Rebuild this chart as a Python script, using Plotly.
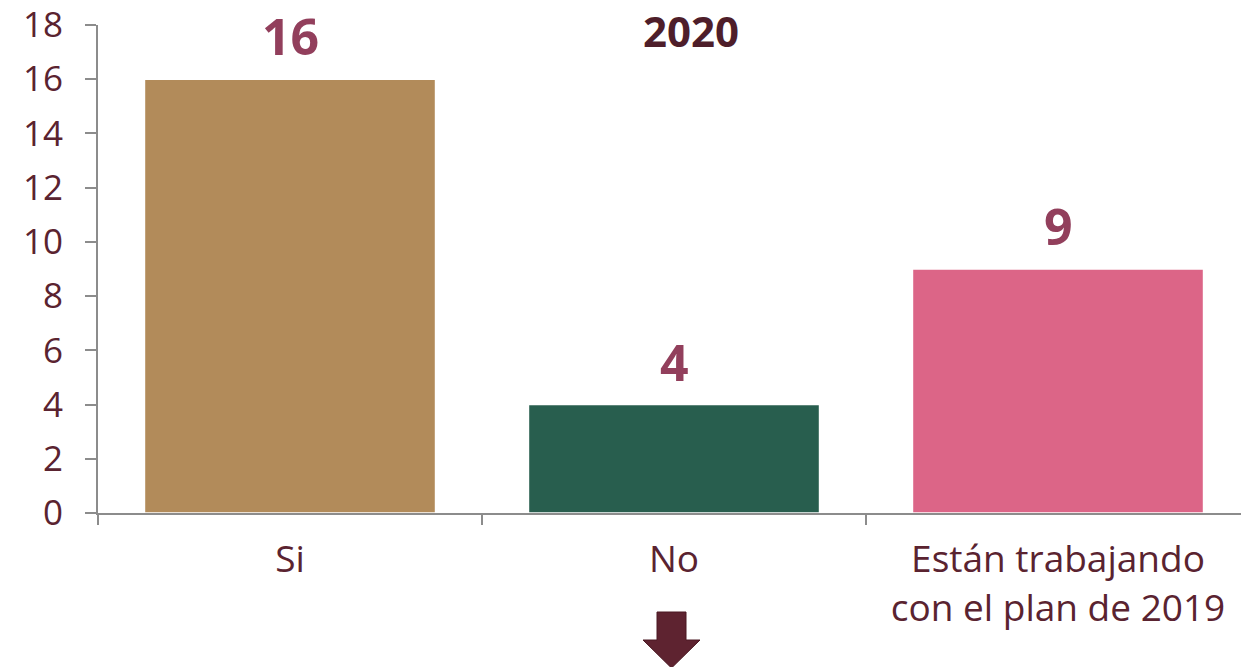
import plotly.graph_objects as go

categories = ["Si", "No", "Están trabajando<br>con el plan de 2019"]
values = [16, 4, 9]
colors = ["#B28B5A", "#285E4E", "#DC6587"]
y_ticks = [0, 2, 4, 6, 8, 10, 12, 14, 16, 18]
title_text = "2020"

W, H = 1241, 667
ML, MR, MT, MB = 98, 0, 25, 154
PW, PH = W - ML - MR, H - MT - MB

def px(x):
    return (x - ML) / PW

def py(y):
    return (H - MB - y) / PH

FONT = "Open Sans"
TXT = "#5A2330"
LBL = "#923F5C"

fig = go.Figure()
fig.add_trace(go.Bar(
    x=categories, y=values,
    marker=dict(color=colors, line=dict(color="white", width=1.5)),
    width=0.758, hoverinfo="skip",
))

for c, v in zip(categories, values):
    fig.add_annotation(x=c, y=v, text=f"<b>{v}</b>", showarrow=False,
                       yanchor="middle", yshift=43,
                       font=dict(family=FONT, size=50, color=LBL))

fig.add_annotation(xref="paper", yref="paper", x=px(691), y=py(0),
                   text=f"<b>{title_text}</b>", showarrow=False,
                   xanchor="center", yanchor="top",
                   font=dict(family=FONT, size=42, color="#4E1E2A"))

# down arrow
ax = [657, 686, 686, 700, 671.5, 643, 657, 657]
ay = [612, 612, 640, 640, 668, 640, 640, 612]
path = "M " + " L ".join(f"{px(a)},{py(b)}" for a, b in zip(ax, ay)) + " Z"
fig.add_shape(type="path", xref="paper", yref="paper", path=path,
              fillcolor="#5E2330", line=dict(color="#4A1822", width=1))

fig.update_layout(
    width=W, height=H,
    margin=dict(l=ML, r=MR, t=MT, b=MB, pad=0),
    paper_bgcolor="white", plot_bgcolor="white",
    showlegend=False,
    font=dict(family=FONT, color=TXT),
)
fig.update_xaxes(
    type="category",
    range=[-0.5, -0.5 + PW / 384.0],
    tickfont=dict(family=FONT, size=37, color=TXT),
    showline=True, linecolor="#8C8C8C", linewidth=2,
    ticks="outside", ticklen=10, tickwidth=2, tickcolor="#8C8C8C",
    tickson="boundaries", showgrid=False, zeroline=False,
    ticklabelstandoff=13, ticklabeloverflow="allow",
)
fig.update_yaxes(
    range=[0, 18], tickvals=y_ticks,
    tickfont=dict(family=FONT, size=35, color=TXT),
    showline=True, linecolor="#8C8C8C", linewidth=2,
    ticks="outside", ticklen=11, tickwidth=2, tickcolor="#8C8C8C",
    showgrid=False, zeroline=False, ticklabelstandoff=15,
    ticklabeloverflow="allow",
)

fig.write_html(
    "out.html",
    config={"displayModeBar": False},
    post_script="document.body.style.margin='0';document.body.style.overflow='hidden';",
)
